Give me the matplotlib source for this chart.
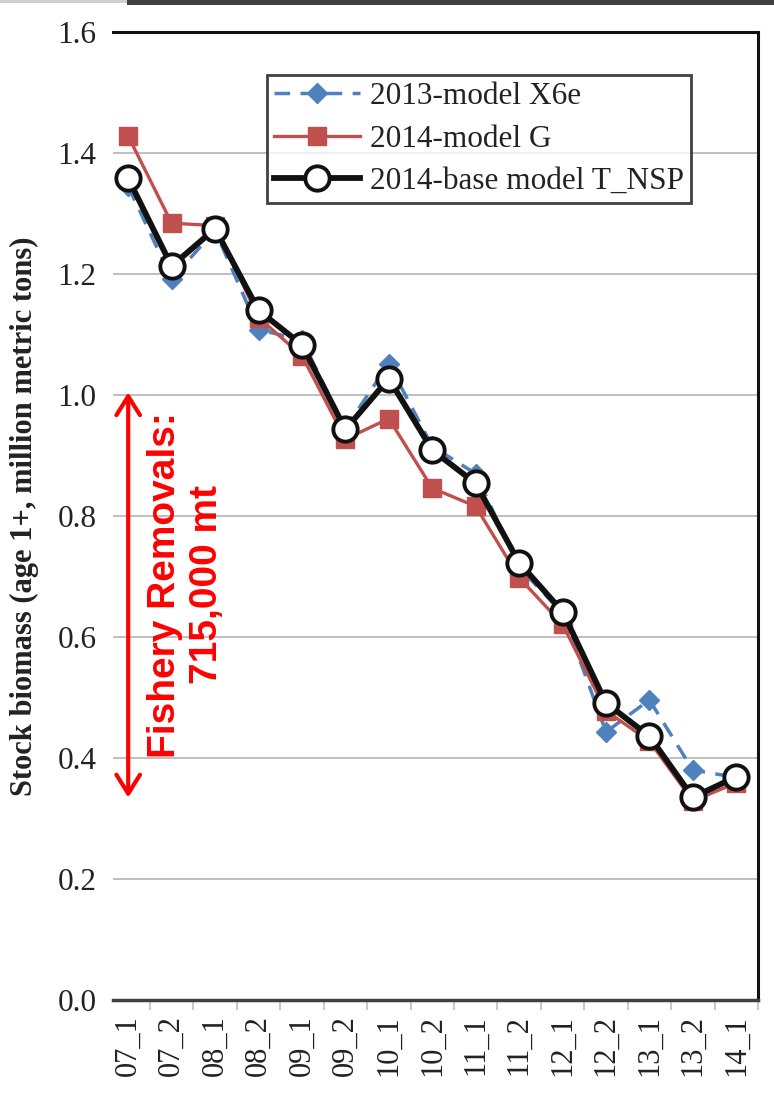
import matplotlib
matplotlib.use("Agg")
import matplotlib.pyplot as plt
from matplotlib.patches import Rectangle, FancyArrowPatch
from matplotlib.ticker import FixedLocator, NullFormatter

categories = ["07_1", "07_2", "08_1", "08_2", "09_1", "09_2", "10_1", "10_2",
              "11_1", "11_2", "12_1", "12_2", "13_1", "13_2", "14_1"]
model_2013_x6e = [1.345, 1.192, 1.272, 1.108, 1.091, 0.945, 1.052, 0.915,
                  0.870, 0.715, 0.640, 0.443, 0.496, 0.380, 0.368]
model_2014_g = [1.428, 1.284, 1.280, 1.128, 1.065, 0.927, 0.961, 0.846,
                0.816, 0.698, 0.621, 0.478, 0.428, 0.329, 0.359]
model_2014_tnsp = [1.358, 1.213, 1.275, 1.140, 1.083, 0.943, 1.027, 0.909,
                   0.854, 0.723, 0.642, 0.491, 0.436, 0.335, 0.369]
yticks = [0.0, 0.2, 0.4, 0.6, 0.8, 1.0, 1.2, 1.4, 1.6]

plt.rcParams['font.family'] = ['Liberation Serif', 'DejaVu Serif']

fig = plt.figure(figsize=(7.74, 11.13), dpi=100)
W, H = 774, 1113
ax = fig.add_axes([113 / W, 1 - 1000 / H, (758 - 113) / W, (1000 - 32) / H])

# top decoration bars
fig.patches.append(Rectangle((0, 1 - 3 / H), 127 / W, 3 / H, transform=fig.transFigure,
                             facecolor='#cfcfcf', edgecolor='none', zorder=0))
fig.patches.append(Rectangle((127 / W, 1 - 5 / H), 1 - 127 / W, 5 / H, transform=fig.transFigure,
                             facecolor='#404040', edgecolor='none', zorder=0))

x = list(range(len(categories)))
ax.plot(x, model_2013_x6e, color='#4F81BD', lw=2.5, ls=(0, (4.5, 3)), marker='D',
        ms=10.5, mfc='#4F81BD', mec='#4F81BD', label='2013-model X6e', zorder=3)
ax.plot(x, model_2014_g, color='#C0504D', lw=2.4, marker='s', ms=13,
        mfc='#C0504D', mec='#C0504D', label='2014-model G', zorder=4)
ax.plot(x, model_2014_tnsp, color='#111111', lw=4.2, marker='o', ms=17.5,
        mfc='white', mec='#111111', mew=2.8, label='2014-base model T_NSP', zorder=5)

ax.set_ylim(0, 1.6)
ax.set_xlim(-0.35, 14.5)
ax.set_yticks(yticks)
ax.set_yticklabels([f"{v:.1f}" for v in yticks])
ax.grid(axis='y', color='#BFBFBF', lw=1.4)
ax.set_axisbelow(True)
ax.tick_params(axis='y', length=0, pad=12, labelsize=22.5, labelcolor='#222222')

ax.set_xticks(x)
ax.set_xticklabels(categories, rotation=90)
ax.tick_params(axis='x', which='major', length=0, pad=11, labelsize=22, labelcolor='#222222')
ax.xaxis.set_minor_locator(FixedLocator([i + 0.5 for i in x]))
ax.xaxis.set_minor_formatter(NullFormatter())
ax.tick_params(axis='x', which='minor', length=7, width=1.2, color='#BFBFBF')

ax.spines['left'].set_visible(False)
for s in ['top', 'right']:
    ax.spines[s].set_color('#111111')
    ax.spines[s].set_linewidth(2.2)
ax.spines['bottom'].set_color('#404040')
ax.spines['bottom'].set_linewidth(2.5)

ax.set_ylabel("Stock biomass (age 1+, million metric tons)", fontsize=22,
              fontweight='bold', labelpad=13, color='#222222')

leg = ax.legend(loc='upper left', bbox_to_anchor=(0.238, 0.9560), borderaxespad=0,
                fontsize=22.5, frameon=True, fancybox=False, handlelength=2.75,
                handletextpad=0.3, labelspacing=0.42, borderpad=0.25)
leg.get_frame().set_edgecolor('#111111')
leg.get_frame().set_linewidth(2.0)
for t in leg.get_texts():
    t.set_color('#222222')

arrow = FancyArrowPatch((0.0, 1.009), (0.0, 0.330), arrowstyle='<->,head_length=0.8,head_width=0.5',
                        mutation_scale=17, color='#FF0000', lw=3, zorder=6)
ax.add_patch(arrow)
ax.text(1.33, 0.686, "Fishery Removals:\n715,000 mt", rotation=90, ha='center', va='center',
        multialignment='center', color='#FF0000', fontsize=28, fontweight='bold',
        family=['Liberation Sans', 'DejaVu Sans'], linespacing=1.2, zorder=6)

fig.savefig("out.png", dpi=100)
